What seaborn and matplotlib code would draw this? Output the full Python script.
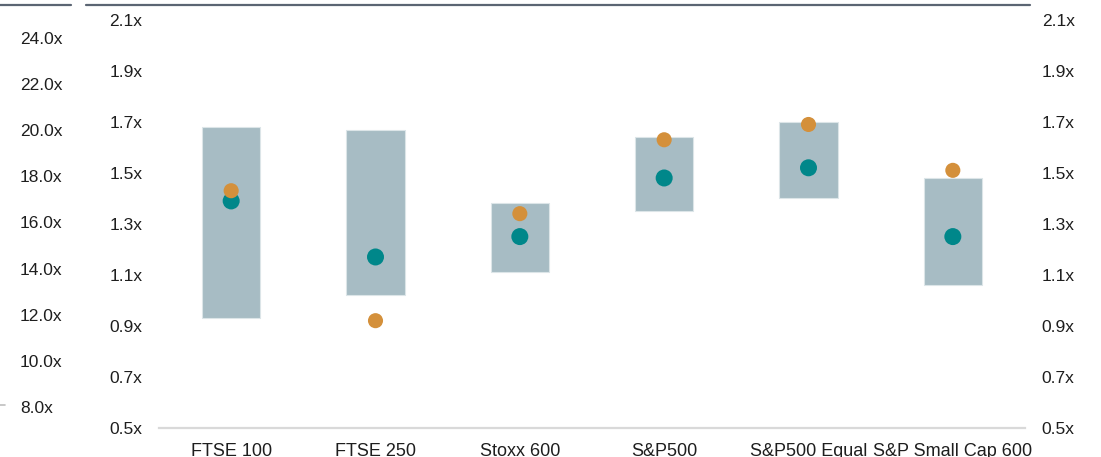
import numpy as np
import pandas as pd
import seaborn as sns
import matplotlib.pyplot as plt
from matplotlib.lines import Line2D
from matplotlib.ticker import FuncFormatter

# dane
indeksy = ["FTSE 100", "FTSE 250", "Stoxx 600", "S&P500", "S&P500 Equal", "S&P Small Cap 600"]
zakres_min = [0.93, 1.02, 1.11, 1.35, 1.40, 1.06]
zakres_max = [1.68, 1.67, 1.38, 1.64, 1.70, 1.48]
obecna = [1.39, 1.17, 1.25, 1.48, 1.52, 1.25]
srednia = [1.43, 0.92, 1.34, 1.63, 1.69, 1.51]
ticki_wew = [0.5, 0.7, 0.9, 1.1, 1.3, 1.5, 1.7, 1.9, 2.1]
ticki_zew = [8.0, 10.0, 12.0, 14.0, 16.0, 18.0, 20.0, 22.0, 24.0]

df = pd.DataFrame({"indeks": indeksy, "min": zakres_min, "max": zakres_max,
                   "obecna": obecna, "srednia": srednia})
df["poz"] = np.arange(len(df))

sns.set_style("white")
plt.rcParams["font.family"] = ["Liberation Sans", "DejaVu Sans"]

W, H = 1101, 457
fig = plt.figure(figsize=(W / 100, H / 100), dpi=100)

# pozycje w pikselach
x0, x1 = 159, 1025
y_dol, y_gora = 427.7, 20
ax = fig.add_axes([x0 / W, (H - y_dol) / H, (x1 - x0) / W, (y_dol - y_gora) / H])

kol_slupek = "#A7BCC4"
kol_teal = "#00878A"
kol_pom = "#D4903B"
kol_tekst = "#1E1E1E"

ax.bar(df["poz"], df["max"] - df["min"], bottom=df["min"], width=0.405,
       color=kol_slupek, edgecolor="#DCE5E8", linewidth=0.8, zorder=2)
sns.scatterplot(data=df, x="poz", y="srednia", ax=ax, color=kol_pom, s=118,
                edgecolor="none", zorder=4, legend=False)
sns.scatterplot(data=df, x="poz", y="obecna", ax=ax, color=kol_teal, s=150,
                edgecolor="none", zorder=3, legend=False)

ax.set_xlim(-0.5, len(df) - 0.5)
ax.set_ylim(0.5, 2.1)
ax.set_xticks(df["poz"])
ax.set_xticklabels(df["indeks"], fontsize=13, color=kol_tekst)
ax.set_yticks(ticki_wew)
fmt = FuncFormatter(lambda v, p: f"{v:.1f}x")
ax.yaxis.set_major_formatter(fmt)
ax.tick_params(axis="x", length=0, pad=11)
ax.tick_params(axis="y", length=0, pad=12, labelsize=12.5, labelcolor=kol_tekst)
ax.set_xlabel("")
ax.set_ylabel("")
for s in ["top", "left", "right"]:
    ax.spines[s].set_visible(False)
ax.spines["bottom"].set_color("#D9D9D9")
ax.spines["bottom"].set_linewidth(1.6)

# prawa oś
ax2 = ax.twinx()
ax2.set_ylim(0.5, 2.1)
ax2.set_yticks(ticki_wew)
ax2.yaxis.set_major_formatter(fmt)
ax2.tick_params(axis="y", length=0, pad=12, labelsize=12.5, labelcolor=kol_tekst)
for s in ax2.spines.values():
    s.set_visible(False)

# zewnętrzna lewa oś (P/E)
ax3 = ax.twinx()
px = 23.06
ax3.set_ylim(8 - (y_dol - 407) / px, 24 + (38 - y_gora) / px)
ax3.yaxis.tick_left()
ax3.set_yticks(ticki_zew)
ax3.yaxis.set_major_formatter(fmt)
ax3.tick_params(axis="y", length=0, pad=(x0 - 20) * 0.72, labelsize=12.5, labelcolor=kol_tekst)
for lab in ax3.get_yticklabels():
    lab.set_horizontalalignment("left")
for s in ax3.spines.values():
    s.set_visible(False)

# linie u góry
fig.add_artist(Line2D([0, 71 / W], [1 - 4.5 / H] * 2, color="#5B6573", linewidth=1.6))
fig.add_artist(Line2D([86 / W, 1030 / W], [1 - 4.5 / H] * 2, color="#5B6573", linewidth=1.6))
fig.add_artist(Line2D([0, 5 / W], [1 - 405 / H] * 2, color="#BFBFBF", linewidth=1.2))

fig.savefig("out.png", dpi=100)
